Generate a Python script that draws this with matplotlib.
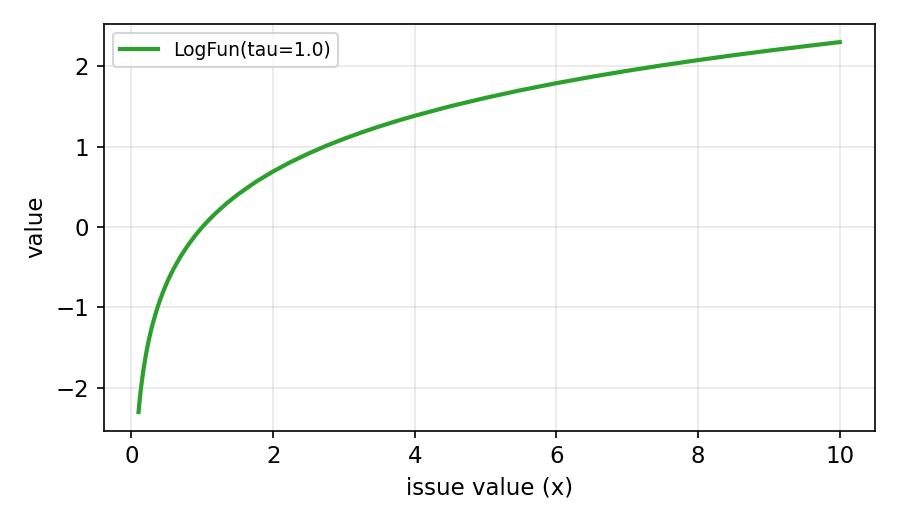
import matplotlib
matplotlib.use("Agg")
import matplotlib.pyplot as plt

# Values
x_vals = [0.10, 0.11, 0.12, 0.13, 0.14, 0.15, 0.17, 0.20, 0.22, 0.25, 0.28, 0.30,
          0.35, 0.40, 0.45, 0.50, 0.55, 0.60, 0.70, 0.80, 0.90, 1.00, 1.10, 1.20,
          1.35, 1.50, 1.75, 2.00, 2.25, 2.50, 2.75, 3.00, 3.25, 3.50, 3.75, 4.00,
          4.50, 5.00, 5.50, 6.00, 6.50, 7.00, 7.50, 8.00, 8.50, 9.00, 9.50, 10.00]
y_vals = [-2.303, -2.207, -2.120, -2.040, -1.966, -1.897, -1.772, -1.609, -1.514,
          -1.386, -1.273, -1.204, -1.050, -0.916, -0.799, -0.693, -0.598, -0.511,
          -0.357, -0.223, -0.105, 0.000, 0.095, 0.182, 0.300, 0.405, 0.560, 0.693,
          0.811, 0.916, 1.012, 1.099, 1.179, 1.253, 1.322, 1.386, 1.504, 1.609,
          1.705, 1.792, 1.872, 1.946, 2.015, 2.079, 2.140, 2.197, 2.251, 2.303]
series_label = "LogFun(tau=1.0)"
x_label = "issue value (x)"
y_label = "value"

fig, ax = plt.subplots(figsize=(6, 3.5), dpi=150)
fig.subplots_adjust(left=0.115, right=0.972, top=0.955, bottom=0.18)
ax.plot(x_vals, y_vals, color="#2ca02c", linewidth=2, label=series_label)
ax.grid(True, alpha=0.3)
ax.set_xlabel(x_label, fontsize=11)
ax.set_ylabel(y_label, fontsize=11)
ax.tick_params(labelsize=11)
ax.legend(loc="upper left", fontsize=9)
fig.savefig("out.png", dpi=150)
